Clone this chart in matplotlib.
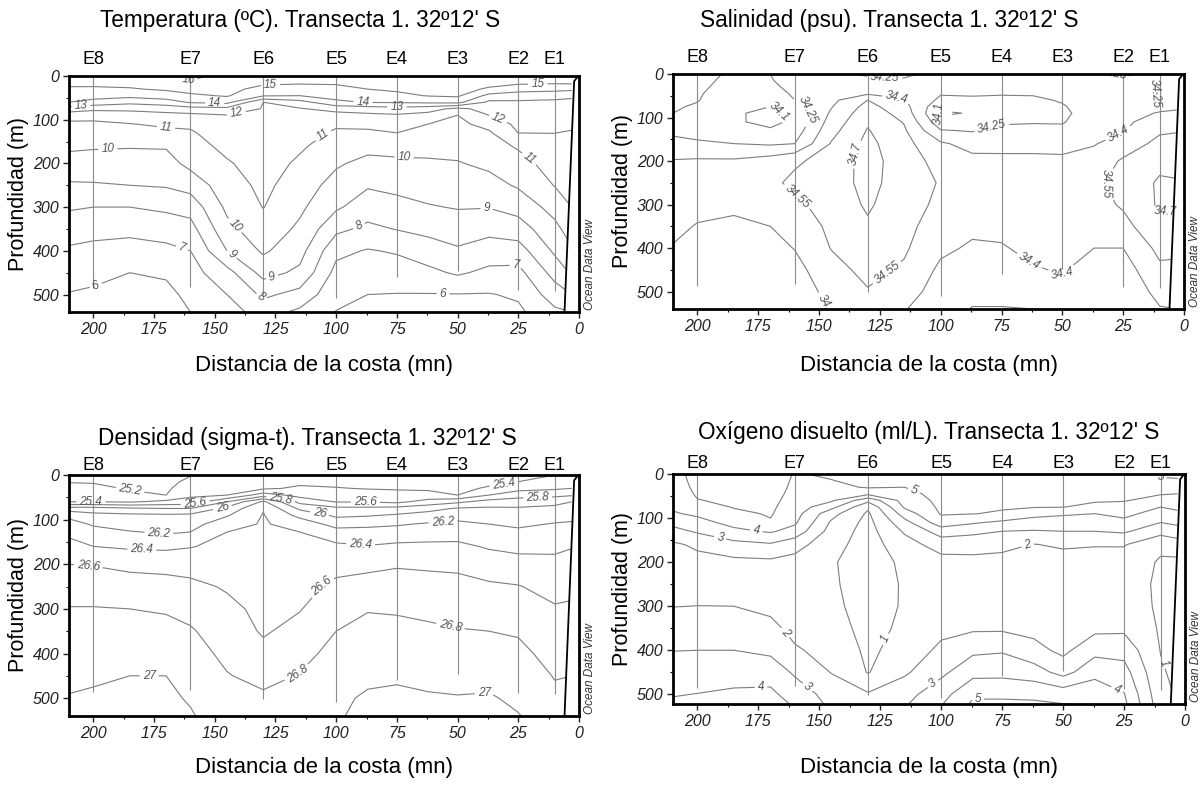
import numpy as np
import matplotlib.pyplot as plt
from matplotlib.ticker import MultipleLocator

plt.rcParams['font.family'] = ['Liberation Sans', 'DejaVu Sans']

stations = ['E8', 'E7', 'E6', 'E5', 'E4', 'E3', 'E2', 'E1']
station_dist = [200, 160, 130, 100, 75, 50, 25, 10]
cast_depth = [486, 482, 502, 509, 459, 447, 489, 491]

# reading grid: columns (distance from coast, mn) x rows (depth, m)
grid_dist = [210, 200, 185, 170, 160, 145, 130, 115, 100, 87, 75, 62, 50, 37, 25, 10, 3]
grid_depth = [0, 15, 30, 45, 60, 75, 90, 110, 130, 160, 200, 250, 300, 350, 400, 450, 500, 540]

coast_dist = [0.3, 2.0, 6.0]
coast_depth = [0, 12, 545]

# one profile per grid_dist column, values at grid_depth
temperature = [
    [15.5, 15.21, 14.88, 14.44, 14.0, 12.58, 11.38, 10.81, 10.56, 10.18, 9.62, 8.88, 8.11, 7.44, 6.86, 6.41, 5.95, 5.6],
    [15.5, 15.21, 14.87, 14.39, 13.67, 12.25, 11.33, 10.81, 10.53, 10.11, 9.58, 8.91, 8.0, 7.31, 6.74, 6.26, 5.85, 5.5],
    [15.6, 15.3, 14.92, 14.29, 13.27, 12.2, 11.6, 10.96, 10.61, 10.07, 9.58, 9.0, 8.0, 7.26, 6.61, 6.0, 5.6, 5.3],
    [15.8, 15.47, 15.13, 14.53, 13.55, 12.36, 11.73, 11.19, 10.72, 10.09, 9.62, 9.09, 8.19, 7.43, 6.76, 6.15, 5.7, 5.4],
    [16.3, 15.9, 15.4, 14.8, 14.1, 12.6, 11.76, 11.18, 10.88, 10.62, 10.28, 9.4, 8.37, 7.64, 7.0, 6.64, 6.29, 6.0],
    [15.6, 15.45, 15.27, 15.1, 14.29, 12.69, 11.96, 11.76, 11.56, 11.25, 10.9, 10.55, 10.21, 9.71, 9.0, 7.63, 7.0, 6.6],
    [15.5, 15.17, 14.71, 14.08, 12.0, 11.94, 11.88, 11.8, 11.72, 11.6, 11.43, 11.23, 11.03, 10.61, 10.15, 9.35, 8.2, 7.4],
    [15.4, 15.12, 14.6, 14.0, 12.62, 11.93, 11.79, 11.61, 11.42, 11.14, 10.84, 10.52, 10.19, 9.82, 9.36, 8.8, 7.67, 6.8],
    [15.4, 15.12, 14.74, 14.34, 13.8, 12.3, 11.68, 11.16, 10.85, 10.54, 10.13, 9.63, 9.15, 8.24, 7.25, 6.7, 6.3, 5.97],
    [15.5, 15.25, 15.0, 14.47, 14.06, 12.47, 11.79, 11.26, 10.82, 10.3, 9.72, 9.1, 8.48, 7.78, 6.93, 6.46, 6.0, 5.65],
    [15.6, 15.38, 15.15, 14.77, 14.09, 12.63, 11.89, 11.44, 11.0, 10.39, 9.78, 9.26, 8.68, 8.04, 7.1, 6.51, 5.97, 5.65],
    [15.7, 15.48, 15.26, 15.05, 14.2, 12.38, 11.67, 11.0, 10.73, 10.33, 9.86, 9.41, 8.93, 8.27, 7.54, 6.76, 5.96, 5.65],
    [15.8, 15.58, 15.36, 15.15, 14.29, 11.74, 10.99, 10.8, 10.61, 10.32, 9.94, 9.5, 9.06, 8.49, 7.87, 7.14, 5.97, 5.65],
    [15.7, 15.34, 14.86, 13.7, 12.79, 12.39, 12.0, 11.29, 10.88, 10.6, 10.21, 9.65, 9.04, 8.28, 7.54, 6.76, 5.95, 5.65],
    [15.6, 15.19, 14.47, 13.38, 12.88, 12.69, 12.51, 12.26, 12.01, 11.12, 10.63, 10.12, 9.37, 8.52, 7.56, 6.71, 6.14, 5.8],
    [15.5, 15.14, 14.36, 13.23, 12.86, 12.67, 12.49, 12.25, 12.01, 11.76, 11.44, 11.04, 10.36, 9.72, 9.17, 8.36, 7.5, 6.8],
    [15.5, 15.19, 14.23, 13.14, 12.82, 12.62, 12.41, 12.14, 11.94, 11.78, 11.56, 11.28, 11.0, 10.46, 9.88, 9.14, 8.0, 7.0],
]

salinity = [
    [34.30, 34.29, 34.28, 34.27, 34.265, 34.26, 34.25, 34.22, 34.22, 34.29, 34.41, 34.46, 34.47, 34.44, 34.39, 34.35, 34.32, 34.30],
    [34.29, 34.28, 34.27, 34.26, 34.255, 34.24, 34.21, 34.19, 34.20, 34.27, 34.42, 34.46, 34.45, 34.39, 34.34, 34.31, 34.29, 34.27],
    [34.23, 34.22, 34.21, 34.20, 34.18, 34.15, 34.12, 34.12, 34.17, 34.25, 34.42, 34.46, 34.43, 34.37, 34.33, 34.30, 34.28, 34.26],
    [34.25, 34.24, 34.22, 34.19, 34.15, 34.10, 34.06, 34.06, 34.12, 34.23, 34.47, 34.52, 34.47, 34.40, 34.35, 34.31, 34.28, 34.26],
    [34.32, 34.31, 34.29, 34.27, 34.25, 34.19, 34.14, 34.13, 34.17, 34.25, 34.53, 34.58, 34.52, 34.46, 34.405, 34.35, 34.31, 34.28],
    [34.30, 34.31, 34.32, 34.34, 34.36, 34.39, 34.42, 34.46, 34.50, 34.56, 34.60, 34.62, 34.61, 34.58, 34.555, 34.50, 34.45, 34.41],
    [34.22, 34.30, 34.35, 34.38, 34.55, 34.60, 34.64, 34.68, 34.71, 34.74, 34.76, 34.75, 34.72, 34.68, 34.64, 34.59, 34.54, 34.50],
    [34.22, 34.27, 34.32, 34.37, 34.41, 34.45, 34.49, 34.54, 34.57, 34.60, 34.62, 34.62, 34.61, 34.59, 34.57, 34.53, 34.47, 34.41],
    [34.30, 34.29, 34.28, 34.26, 34.22, 34.14, 34.08, 34.15, 34.26, 34.42, 34.50, 34.54, 34.52, 34.48, 34.43, 34.37, 34.33, 34.30],
    [34.31, 34.30, 34.29, 34.27, 34.22, 34.16, 34.11, 34.15, 34.24, 34.35, 34.44, 34.48, 34.47, 34.43, 34.38, 34.33, 34.28, 34.245],
    [34.32, 34.31, 34.29, 34.26, 34.22, 34.19, 34.17, 34.23, 34.29, 34.36, 34.43, 34.47, 34.46, 34.43, 34.39, 34.33, 34.28, 34.245],
    [34.32, 34.31, 34.29, 34.26, 34.23, 34.21, 34.20, 34.24, 34.29, 34.36, 34.43, 34.47, 34.48, 34.46, 34.43, 34.39, 34.32, 34.25],
    [34.32, 34.31, 34.30, 34.28, 34.26, 34.24, 34.22, 34.24, 34.28, 34.35, 34.43, 34.48, 34.50, 34.48, 34.45, 34.41, 34.36, 34.30],
    [34.30, 34.30, 34.30, 34.30, 34.30, 34.31, 34.32, 34.33, 34.35, 34.39, 34.46, 34.52, 34.49, 34.45, 34.40, 34.35, 34.30, 34.27],
    [34.22, 34.28, 34.30, 34.31, 34.32, 34.33, 34.35, 34.37, 34.39, 34.47, 34.57, 34.60, 34.57, 34.50, 34.40, 34.33, 34.28, 34.25],
    [34.30, 34.29, 34.26, 34.24, 34.27, 34.36, 34.41, 34.47, 34.53, 34.59, 34.66, 34.72, 34.72, 34.67, 34.59, 34.52, 34.45, 34.39],
    [34.30, 34.30, 34.29, 34.29, 34.32, 34.38, 34.42, 34.48, 34.54, 34.60, 34.66, 34.71, 34.71, 34.66, 34.58, 34.52, 34.46, 34.40],
]

density = [
    [25.10, 25.19, 25.26, 25.33, 25.40, 25.89, 26.15, 26.27, 26.36, 26.47, 26.60, 26.71, 26.81, 26.86, 26.91, 26.96, 27.01, 27.03],
    [25.10, 25.18, 25.26, 25.33, 25.40, 25.88, 26.06, 26.18, 26.27, 26.40, 26.59, 26.71, 26.81, 26.86, 26.92, 26.98, 27.02, 27.05],
    [25.12, 25.15, 25.18, 25.25, 25.38, 25.83, 26.04, 26.13, 26.22, 26.37, 26.55, 26.69, 26.80, 26.87, 26.94, 27.00, 27.04, 27.07],
    [25.13, 25.15, 25.17, 25.20, 25.45, 25.80, 26.03, 26.11, 26.19, 26.36, 26.54, 26.67, 26.78, 26.86, 26.93, 27.00, 27.04, 27.07],
    [25.19, 25.24, 25.30, 25.36, 25.48, 25.80, 26.04, 26.13, 26.21, 26.39, 26.52, 26.65, 26.74, 26.82, 26.87, 26.92, 26.98, 27.02],
    [25.32, 25.34, 25.37, 25.40, 25.80, 26.06, 26.18, 26.31, 26.41, 26.45, 26.51, 26.58, 26.65, 26.70, 26.76, 26.81, 26.85, 26.88],
    [25.30, 25.34, 25.37, 25.70, 26.24, 26.39, 26.41, 26.42, 26.44, 26.46, 26.48, 26.52, 26.55, 26.58, 26.65, 26.75, 26.83, 26.88],
    [25.30, 25.36, 25.43, 25.53, 25.74, 25.96, 26.14, 26.32, 26.41, 26.44, 26.48, 26.54, 26.59, 26.66, 26.74, 26.81, 26.86, 26.89],
    [25.30, 25.35, 25.41, 25.50, 25.59, 25.85, 25.96, 26.13, 26.29, 26.44, 26.54, 26.64, 26.72, 26.80, 26.86, 26.92, 26.97, 26.98],
    [25.30, 25.35, 25.39, 25.49, 25.59, 25.85, 25.98, 26.16, 26.27, 26.41, 26.55, 26.68, 26.79, 26.85, 26.91, 26.97, 27.02, 27.05],
    [25.30, 25.34, 25.38, 25.47, 25.55, 25.87, 26.02, 26.18, 26.29, 26.44, 26.58, 26.69, 26.78, 26.85, 26.91, 26.98, 27.03, 27.06],
    [25.30, 25.34, 25.37, 25.46, 25.68, 25.93, 26.08, 26.22, 26.32, 26.44, 26.57, 26.67, 26.76, 26.83, 26.89, 26.95, 27.02, 27.05],
    [25.30, 25.33, 25.36, 25.40, 25.76, 26.02, 26.13, 26.24, 26.33, 26.44, 26.56, 26.66, 26.74, 26.81, 26.88, 26.94, 27.01, 27.04],
    [25.32, 25.36, 25.42, 25.60, 25.88, 26.03, 26.10, 26.20, 26.27, 26.38, 26.50, 26.63, 26.71, 26.80, 26.87, 26.94, 27.02, 27.05],
    [25.35, 25.40, 25.53, 25.72, 25.90, 26.02, 26.08, 26.17, 26.24, 26.35, 26.47, 26.61, 26.70, 26.78, 26.85, 26.91, 26.96, 27.01],
    [25.40, 25.49, 25.57, 25.75, 25.94, 26.05, 26.13, 26.21, 26.28, 26.36, 26.45, 26.53, 26.62, 26.68, 26.73, 26.79, 26.84, 26.88],
    [25.45, 25.53, 25.60, 25.78, 26.00, 26.08, 26.15, 26.22, 26.30, 26.39, 26.47, 26.55, 26.63, 26.70, 26.75, 26.80, 26.85, 26.88],
]

oxygen = [
    [4.70, 4.65, 4.60, 4.50, 4.35, 4.15, 3.90, 3.30, 2.67, 1.85, 1.60, 1.60, 1.98, 2.48, 2.98, 3.45, 3.95, 4.30],
    [5.30, 5.25, 5.18, 5.10, 4.97, 4.58, 4.18, 3.66, 3.13, 2.17, 1.70, 1.60, 2.01, 2.51, 3.00, 3.53, 4.02, 4.30],
    [5.40, 5.35, 5.30, 5.22, 5.14, 5.05, 4.80, 4.32, 3.76, 2.69, 1.75, 1.65, 2.00, 2.50, 3.00, 3.63, 4.15, 4.40],
    [5.40, 5.37, 5.33, 5.28, 5.22, 5.15, 5.08, 4.92, 4.12, 2.89, 1.80, 1.60, 1.80, 2.22, 2.78, 3.60, 4.20, 4.45],
    [4.95, 4.90, 4.85, 4.78, 4.68, 4.55, 4.40, 4.15, 3.62, 2.39, 1.65, 1.50, 1.55, 1.75, 2.10, 2.85, 3.57, 4.10],
    [5.10, 4.98, 4.76, 4.45, 4.15, 3.30, 2.35, 1.85, 1.60, 1.35, 1.10, 1.15, 1.25, 1.45, 1.70, 1.96, 2.60, 2.95],
    [5.30, 5.20, 5.08, 4.25, 2.30, 1.15, 0.85, 0.70, 0.62, 0.55, 0.50, 0.50, 0.55, 0.65, 0.80, 0.95, 2.10, 2.60],
    [5.30, 5.15, 5.00, 4.70, 4.42, 4.14, 3.47, 2.66, 2.13, 1.60, 1.20, 1.10, 1.10, 1.20, 1.40, 1.85, 2.65, 3.10],
    [5.50, 5.45, 5.40, 5.33, 5.25, 5.17, 5.08, 4.57, 3.45, 2.43, 1.65, 1.45, 1.50, 1.75, 2.21, 2.78, 3.60, 4.20],
    [5.50, 5.45, 5.38, 5.30, 5.22, 5.12, 5.03, 4.12, 3.22, 2.42, 1.70, 1.50, 1.60, 1.85, 2.80, 3.67, 4.85, 5.40],
    [5.50, 5.45, 5.38, 5.30, 5.20, 5.10, 4.88, 3.80, 3.00, 2.25, 1.70, 1.50, 1.60, 1.85, 2.90, 3.70, 4.85, 5.40],
    [5.50, 5.44, 5.36, 5.27, 5.16, 5.05, 4.33, 3.55, 2.93, 1.97, 1.60, 1.45, 1.50, 1.70, 2.33, 3.45, 4.80, 5.40],
    [5.50, 5.43, 5.35, 5.25, 5.12, 5.02, 4.13, 3.53, 3.00, 2.14, 1.60, 1.45, 1.45, 1.55, 1.75, 2.65, 4.60, 5.35],
    [5.50, 5.42, 5.33, 5.22, 5.10, 4.75, 4.00, 3.50, 3.00, 2.06, 1.60, 1.45, 1.55, 1.75, 2.70, 3.67, 4.70, 5.20],
    [5.40, 5.33, 5.25, 5.15, 5.05, 4.71, 4.29, 3.71, 3.14, 2.07, 1.55, 1.40, 1.50, 1.80, 2.64, 3.40, 4.05, 4.40],
    [4.90, 5.10, 5.15, 5.05, 4.70, 4.00, 3.55, 3.00, 2.35, 1.20, 0.90, 0.85, 0.85, 0.90, 0.97, 1.10, 1.30, 1.50],
    [4.90, 5.05, 5.10, 5.00, 4.60, 4.20, 3.80, 3.20, 2.60, 1.50, 0.80, 0.70, 0.70, 0.70, 0.75, 0.80, 0.90, 1.00],
]

temp_levels = [6, 7, 8, 9, 10, 11, 12, 13, 14, 15, 16]
sal_levels = [34.1, 34.25, 34.4, 34.55, 34.7]
dens_levels = [25.2, 25.4, 25.6, 25.8, 26.0, 26.2, 26.4, 26.6, 26.8, 27.0]
oxy_levels = [1, 2, 3, 4, 5]

# where the contour labels sit in the original (distance, depth)
temp_label_at = [(161, 12), (205, 73), (150, 63), (127, 26), (141, 88), (170, 116), (194, 170),
                 (108, 115), (89, 63), (75, 69), (17, 23), (33, 93), (72, 179), (21, 193),
                 (143, 349), (144, 416), (126, 468), (131, 508), (164, 403), (199, 479),
                 (91, 338), (38, 303), (26, 422), (56, 498)]
sal_label_at = [(123, 5), (30, 4), (17, 52), (167, 94), (155, 83), (118, 52), (103, 90),
                (79, 121), (27, 136), (138, 179), (154, 251), (33, 255), (120, 473),
                (66, 450), (44, 530), (146, 527), (8, 312)]
dens_label_at = [(185, 39), (201, 63), (158, 65), (147, 69), (123, 57), (107, 91), (88, 63),
                 (173, 132), (180, 166), (56, 105), (90, 160), (31, 16), (17, 50), (202, 200),
                 (108, 241), (53, 340), (116, 445), (177, 430), (39, 489)]
oxy_label_at = [(111, 35), (176, 135), (191, 154), (65, 154), (166, 370), (122, 377),
                (174, 468), (155, 485), (102, 487), (28, 491), (85, 517), (10, 430), (10, 6)]

W, H = 1200, 785
fig = plt.figure(figsize=(W / 100, H / 100), dpi=100)

# pixel boxes: left, top, right, bottom
panels = [
    dict(data=temperature, levels=temp_levels, labels=temp_label_at, ymax=540, box=(69, 76, 579, 312),
         title='Temperatura (ºC). Transecta 1. 32º12\' S', title_xy=(300, 20), st_y=59, xl_y=365),
    dict(data=salinity, levels=sal_levels, labels=sal_label_at, ymax=540, box=(673, 74, 1184, 309),
         title='Salinidad (psu). Transecta 1. 32º12\' S', title_xy=(889, 20), st_y=57, xl_y=365),
    dict(data=density, levels=dens_levels, labels=dens_label_at, ymax=540, box=(69, 475, 579, 716),
         title='Densidad (sigma-t). Transecta 1. 32º12\' S', title_xy=(307, 438), st_y=465, xl_y=768),
    dict(data=oxygen, levels=oxy_levels, labels=oxy_label_at, ymax=522, box=(673, 474, 1185, 704),
         title='Oxígeno disuelto (ml/L). Transecta 1. 32º12\' S', title_xy=(929, 433), st_y=463, xl_y=768),
]

X, Y = np.meshgrid(grid_dist, grid_depth)
line_gray = '#7d7d7d'

for p in panels:
    l, t, r, b = p['box']
    ax = fig.add_axes([l / W, 1 - b / H, (r - l) / W, (b - t) / H])
    ax.set_xlim(210, 0)
    ax.set_ylim(p['ymax'], 0)
    field = np.array(p['data']).T
    cs = ax.contour(X, Y, field, levels=p['levels'], colors=line_gray, linewidths=0.8)
    ax.clabel(cs, fmt='%g', fontsize=8.5, inline=True, inline_spacing=3, manual=p['labels'])
    for lab in cs.labelTexts:
        lab.set_fontstyle('italic')
        lab.set_color('#555555')

    ax.vlines(station_dist, 0, cast_depth, colors='#8a8a8a', linewidth=0.8, zorder=2)
    ax.fill_betweenx(coast_depth, coast_dist, -2, color='white', zorder=3)
    ax.plot(coast_dist, coast_depth, color='black', lw=1.3, zorder=4)

    ax.set_xlim(210, 0)
    ax.set_ylim(p['ymax'], 0)
    ax.xaxis.set_major_locator(MultipleLocator(25))
    ax.xaxis.set_minor_locator(MultipleLocator(12.5))
    ax.yaxis.set_major_locator(MultipleLocator(100))
    ax.yaxis.set_minor_locator(MultipleLocator(50))
    ax.tick_params(which='major', direction='out', length=4, width=1, pad=3,
                   labelsize=11.5, colors='#222222', top=False, right=False)
    ax.tick_params(which='minor', direction='out', length=2.5, width=0.8, top=False, right=False)
    for lab in ax.get_xticklabels() + ax.get_yticklabels():
        lab.set_fontstyle('italic')
    for sp in ax.spines.values():
        sp.set_linewidth(2.0)
        sp.set_zorder(5)

    ax.set_ylabel('Profundidad (m)', fontsize=15.5)
    ax.yaxis.set_label_coords(-0.078, 0.5)
    ax.set_xlabel('Distancia de la costa (mn)', fontsize=16, va='center')
    ax.xaxis.set_label_coords(0.5, (b - p['xl_y']) / (b - t))

    for name, d in zip(stations, station_dist):
        ax.text(d, (b - p['st_y']) / (b - t), name, transform=ax.get_xaxis_transform(),
                ha='center', va='center', fontsize=13)

    ax.text(1.021, 0.01, 'Ocean Data View', transform=ax.transAxes, rotation=90,
            ha='center', va='bottom', fontsize=8.5, fontstyle='italic', color='#333333')

    fig.text(p['title_xy'][0] / W, 1 - p['title_xy'][1] / H, p['title'],
             ha='center', va='center', fontsize=16.3)

fig.savefig('out.png', dpi=100)
